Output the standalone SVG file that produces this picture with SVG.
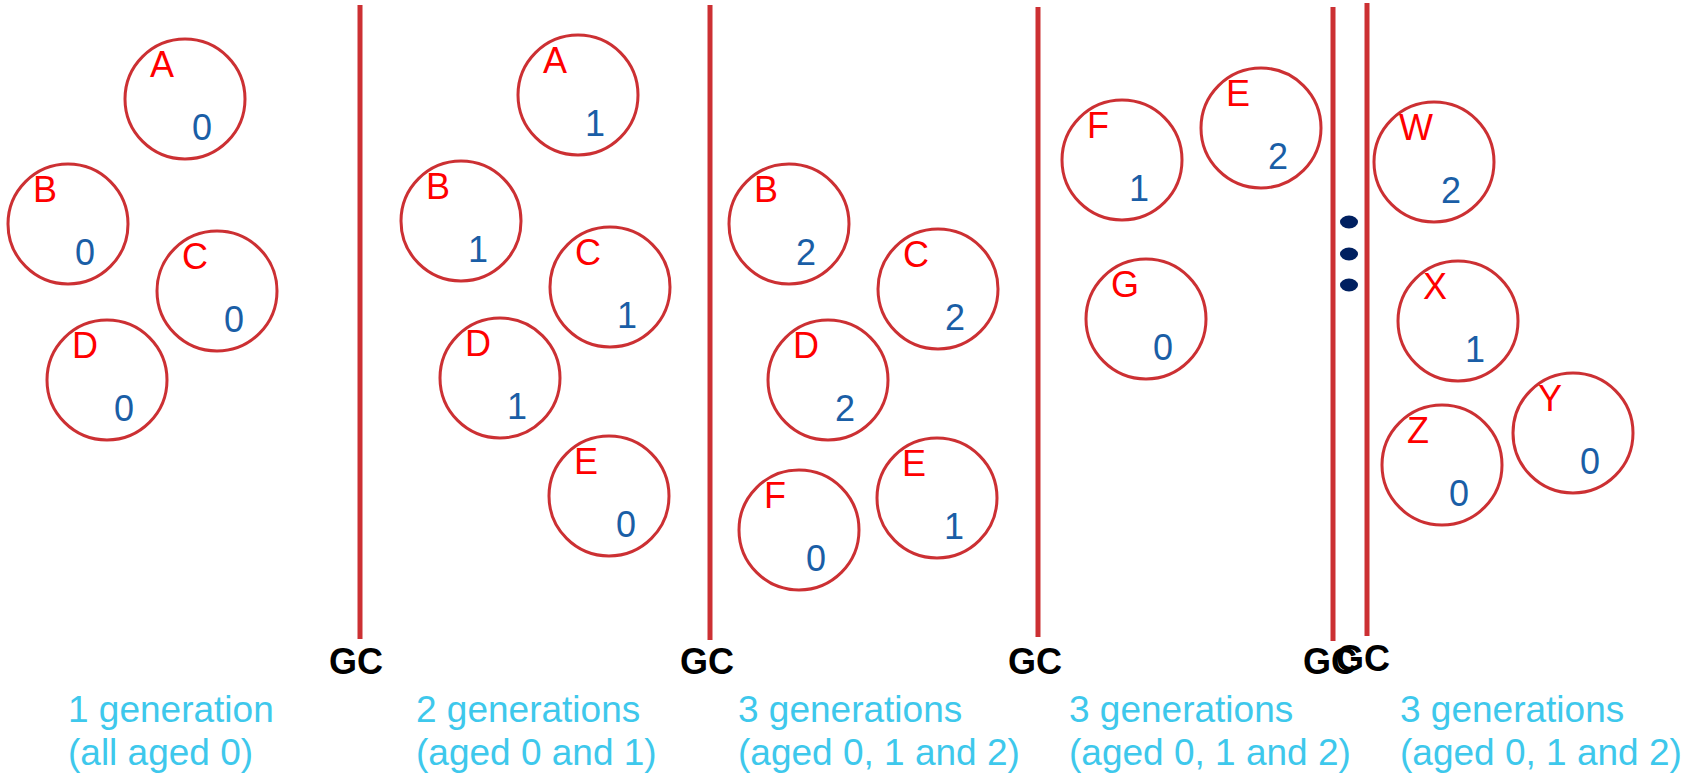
<svg xmlns="http://www.w3.org/2000/svg" width="1684" height="776" viewBox="0 0 1684 776">
<style>
.obj{fill:none;stroke:#cc3033;stroke-width:3}
.gcl{stroke:#cc3033;stroke-width:5}
.let{font-family:"Liberation Sans",Arial,sans-serif;font-size:36px;fill:#ff0000}
.age{font-family:"Liberation Sans",Arial,sans-serif;font-size:36px;fill:#1a5ea6}
.gc{font-family:"Liberation Sans",Arial,sans-serif;font-size:36px;font-weight:bold;fill:#000}
.cap{font-family:"Liberation Sans",Arial,sans-serif;font-size:37px;fill:#3ec8ec}
.dot{fill:#002060}
</style>
<rect width="1684" height="776" fill="#fff"/>
<g id="gc-lines">
<line class="gcl" x1="360" y1="5" x2="360" y2="639"/>
<line class="gcl" x1="710" y1="5" x2="710" y2="640"/>
<line class="gcl" x1="1038" y1="7" x2="1038" y2="637"/>
<line class="gcl" x1="1333" y1="7" x2="1333" y2="641"/>
<line class="gcl" x1="1367" y1="3" x2="1367" y2="636"/>
<text class="gc" x="356" y="674" text-anchor="middle">GC</text>
<text class="gc" x="707" y="674" text-anchor="middle">GC</text>
<text class="gc" x="1035" y="674" text-anchor="middle">GC</text>
<text class="gc" x="1330" y="674" text-anchor="middle">GC</text>
<text class="gc" x="1363" y="671" text-anchor="middle">GC</text>
</g>
<g id="ellipsis">
<ellipse class="dot" cx="1349" cy="222" rx="9" ry="6.5"/>
<ellipse class="dot" cx="1349" cy="254" rx="9" ry="6.5"/>
<ellipse class="dot" cx="1349" cy="285" rx="9" ry="6.5"/>
</g>
<!-- column 1 -->
<g id="c1-A"><circle class="obj" cx="185" cy="99" r="60"/><text class="let" x="150" y="77">A</text><text class="age" x="192" y="140">0</text></g>
<g id="c1-B"><circle class="obj" cx="68" cy="224" r="60"/><text class="let" x="33" y="202">B</text><text class="age" x="75" y="265">0</text></g>
<g id="c1-C"><circle class="obj" cx="217" cy="291" r="60"/><text class="let" x="182" y="269">C</text><text class="age" x="224" y="332">0</text></g>
<g id="c1-D"><circle class="obj" cx="107" cy="380" r="60"/><text class="let" x="72" y="358">D</text><text class="age" x="114" y="421">0</text></g>
<!-- column 2 -->
<g id="c2-A"><circle class="obj" cx="578" cy="95" r="60"/><text class="let" x="543" y="73">A</text><text class="age" x="585" y="136">1</text></g>
<g id="c2-B"><circle class="obj" cx="461" cy="221" r="60"/><text class="let" x="426" y="199">B</text><text class="age" x="468" y="262">1</text></g>
<g id="c2-C"><circle class="obj" cx="610" cy="287" r="60"/><text class="let" x="575" y="265">C</text><text class="age" x="617" y="328">1</text></g>
<g id="c2-D"><circle class="obj" cx="500" cy="378" r="60"/><text class="let" x="465" y="356">D</text><text class="age" x="507" y="419">1</text></g>
<g id="c2-E"><circle class="obj" cx="609" cy="496" r="60"/><text class="let" x="574" y="474">E</text><text class="age" x="616" y="537">0</text></g>
<!-- column 3 -->
<g id="c3-B"><circle class="obj" cx="789" cy="224" r="60"/><text class="let" x="754" y="202">B</text><text class="age" x="796" y="265">2</text></g>
<g id="c3-C"><circle class="obj" cx="938" cy="289" r="60"/><text class="let" x="903" y="267">C</text><text class="age" x="945" y="330">2</text></g>
<g id="c3-D"><circle class="obj" cx="828" cy="380" r="60"/><text class="let" x="793" y="358">D</text><text class="age" x="835" y="421">2</text></g>
<g id="c3-F"><circle class="obj" cx="799" cy="530" r="60"/><text class="let" x="764" y="508">F</text><text class="age" x="806" y="571">0</text></g>
<g id="c3-E"><circle class="obj" cx="937" cy="498" r="60"/><text class="let" x="902" y="476">E</text><text class="age" x="944" y="539">1</text></g>
<!-- column 4 -->
<g id="c4-F"><circle class="obj" cx="1122" cy="160" r="60"/><text class="let" x="1087" y="138">F</text><text class="age" x="1129" y="201">1</text></g>
<g id="c4-E"><circle class="obj" cx="1261" cy="128" r="60"/><text class="let" x="1226" y="106">E</text><text class="age" x="1268" y="169">2</text></g>
<g id="c4-G"><circle class="obj" cx="1146" cy="319" r="60"/><text class="let" x="1111" y="297">G</text><text class="age" x="1153" y="360">0</text></g>
<!-- column 5 -->
<g id="c5-W"><circle class="obj" cx="1434" cy="162" r="60"/><text class="let" x="1399" y="140">W</text><text class="age" x="1441" y="203">2</text></g>
<g id="c5-X"><circle class="obj" cx="1458" cy="321" r="60"/><text class="let" x="1423" y="299">X</text><text class="age" x="1465" y="362">1</text></g>
<g id="c5-Y"><circle class="obj" cx="1573" cy="433" r="60"/><text class="let" x="1538" y="411">Y</text><text class="age" x="1580" y="474">0</text></g>
<g id="c5-Z"><circle class="obj" cx="1442" cy="465" r="60"/><text class="let" x="1407" y="443">Z</text><text class="age" x="1449" y="506">0</text></g>
<g id="captions">
<text class="cap" x="68" y="722">1 generation</text>
<text class="cap" x="68" y="765">(all aged 0)</text>
<text class="cap" x="416" y="722">2 generations</text>
<text class="cap" x="416" y="765">(aged 0 and 1)</text>
<text class="cap" x="738" y="722">3 generations</text>
<text class="cap" x="738" y="765">(aged 0, 1 and 2)</text>
<text class="cap" x="1069" y="722">3 generations</text>
<text class="cap" x="1069" y="765">(aged 0, 1 and 2)</text>
<text class="cap" x="1400" y="722">3 generations</text>
<text class="cap" x="1400" y="765">(aged 0, 1 and 2)</text>
</g>
</svg>
